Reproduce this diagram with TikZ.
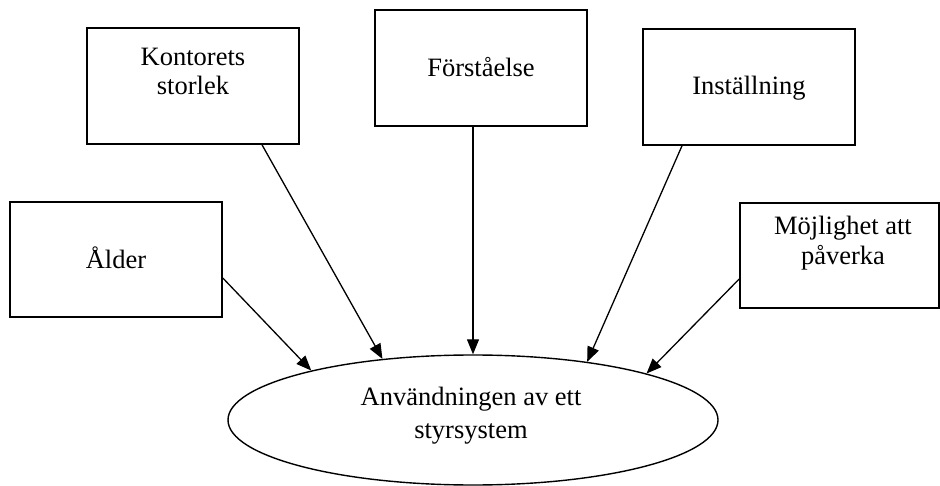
\documentclass[tikz,border=0pt]{standalone}
\usepackage{fontspec}
\setmainfont{Liberation Serif}
\usetikzlibrary{arrows.meta,shapes.geometric}
\tikzset{
  box/.style={draw, line width=1.6pt, inner sep=0pt, minimum width=212pt, minimum height=116pt},
  txt/.style={anchor=base, inner sep=0pt, font=\fontsize{26.5}{30}\selectfont},
  arr/.style={line width=1.3pt, -{Triangle[length=15pt,width=12pt]}},
  oval/.style={draw, ellipse, line width=1.4pt, inner sep=0pt, minimum width=490pt, minimum height=130pt}
}
\begin{document}
\begin{tikzpicture}[x=1pt,y=-1pt]
\useasboundingbox (0,0) rectangle (940,486);
% boxes
\node[box, minimum height=115pt] (alder) at (116,259.5) {};
\node[box] (kont) at (193,86) {};
\node[box] (foer) at (481,68) {};
\node[box] (inst) at (749,87) {};
\node[box, minimum width=199pt, minimum height=105pt] (moj) at (839.5,255.5) {};
\node[oval] (ell) at (473,420) {};
% texts
\node[txt] (alderT) at (116,269) {Ålder};
\node[txt] (kontT1) at (193,66) {Kontorets};
\node[txt] (kontT2) at (193,95) {storlek};
\node[txt] (foerT) at (481,77) {Förståelse};
\node[txt] (instT) at (749,95) {Inställning};
\node[txt] (mojT1) at (843,235) {Möjlighet att};
\node[txt] (mojT2) at (843,265) {påverka};
\node[txt] (ellT1) at (471,405) {Användningen av ett};
\node[txt] (ellT2) at (471,438) {styrsystem};
% arrows
\draw[arr] ([yshift=-18.5pt]alder.east) -- (ell.163);
\draw[arr] ([xshift=69pt]kont.south) -- (ell.146.4);
\draw[arr] (ell.north |- foer.south) -- (ell.north);
\draw[arr] ([xshift=-67pt]inst.south) -- (ell.27);
\draw[arr] ([yshift=-23.5pt]moj.west) -- (ell.15.1);
\end{tikzpicture}
\end{document}
